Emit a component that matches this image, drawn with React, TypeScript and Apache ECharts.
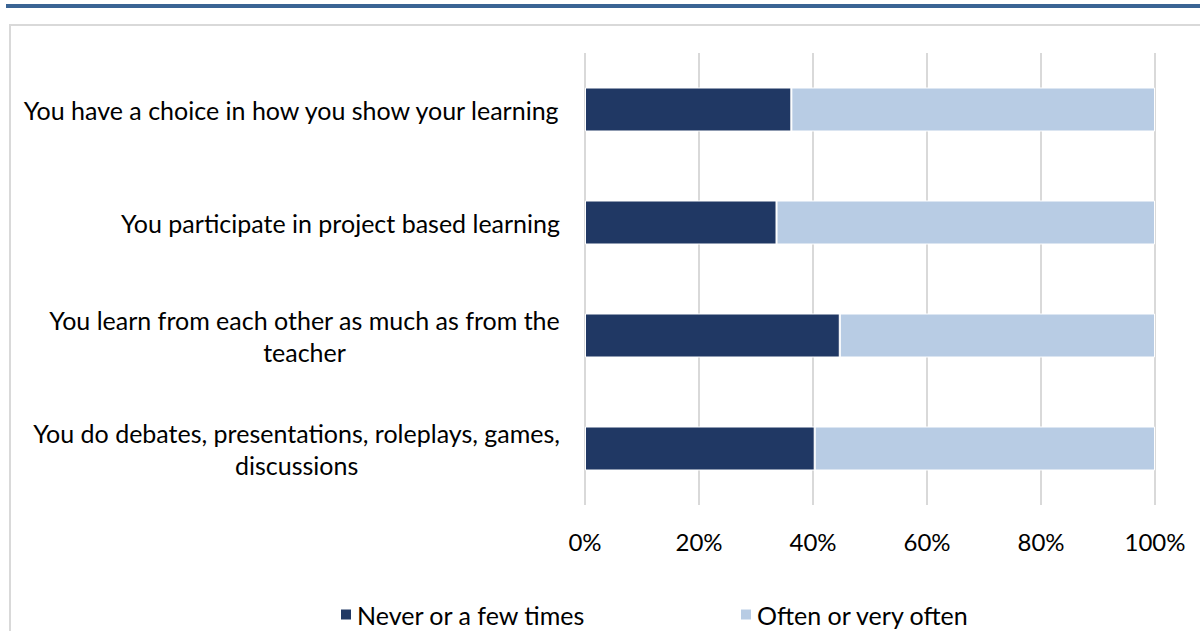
import React, { useEffect, useRef } from "react";
import * as echarts from "echarts";

const categories = [
  "You have a choice in how you show your learning",
  "You participate in project based learning",
  "You learn from each other as much as from the\nteacher",
  "You do debates, presentations, roleplays, games,\ndiscussions",
];
const seriesNames = ["Never or a few times", "Often or very often"];
const neverValues = [36.2, 33.6, 44.7, 40.3];
const oftenValues = [63.8, 66.4, 55.3, 59.7];
const xMin = 0;
const xMax = 100;
const xInterval = 20;

const FONT = "Lato";
const DARK = "#203864";
const LIGHT = "#b8cce4";

export default function App() {
  const ref = useRef<HTMLDivElement>(null);
  useEffect(() => {
    if (!ref.current) return;
    const chart = echarts.init(ref.current, undefined, { renderer: "svg" });
    chart.setOption({
      animation: false,
      backgroundColor: "#ffffff",
      textStyle: { fontFamily: FONT, color: "#000" },
      graphic: [
        { type: "rect", shape: { x: 6, y: 4, width: 1194, height: 4 }, style: { fill: "#3a6494" }, silent: true },
        { type: "rect", shape: { x: 10, y: 25, width: 1300, height: 700 }, style: { fill: "none", stroke: "#d9d9d9", lineWidth: 2 }, silent: true },
      ],
      grid: { left: 585, right: 45, top: 53, bottom: 126, containLabel: false },
      legend: [
        {
          data: [seriesNames[0]], left: 334, top: 597, icon: "rect", itemWidth: 12, itemHeight: 12,
          textStyle: { fontFamily: FONT, fontSize: 25, color: "#000" },
        },
        {
          data: [seriesNames[1]], left: 734, top: 597, icon: "rect", itemWidth: 12, itemHeight: 12,
          textStyle: { fontFamily: FONT, fontSize: 25, color: "#000" },
        },
      ],
      xAxis: {
        type: "value", min: xMin, max: xMax, interval: xInterval,
        axisLine: { show: false }, axisTick: { show: false },
        splitLine: { show: true, lineStyle: { color: "#d9d9d9", width: 2 } },
        axisLabel: { formatter: "{value}%", fontFamily: FONT, fontSize: 24, color: "#000", margin: 24 },
      },
      yAxis: {
        type: "category", inverse: true, data: categories,
        axisLine: { show: false }, axisTick: { show: false },
        axisLabel: {
          margin: 25,
          align: "right",
          formatter: (v: string) => v.split("\n").map((l) => "{a|" + l + "}").join("\n"),
          rich: { a: { align: "center", fontFamily: FONT, fontSize: 25, lineHeight: 32, color: "#000" } },
        },
      },
      series: [
        {
          name: seriesNames[0], type: "bar", stack: "total", data: neverValues, barWidth: 44,
          itemStyle: { color: DARK, borderColor: "#ffffff", borderWidth: 1 },
        },
        {
          name: seriesNames[1], type: "bar", stack: "total", data: oftenValues, barWidth: 44,
          itemStyle: { color: LIGHT, borderColor: "#ffffff", borderWidth: 1 },
        },
      ],
    });
    return () => chart.dispose();
  }, []);
  return (
    <div
      ref={ref}
      style={{ position: "fixed", left: 0, top: 0, width: 1200, height: 631 }}
    />
  );
}
